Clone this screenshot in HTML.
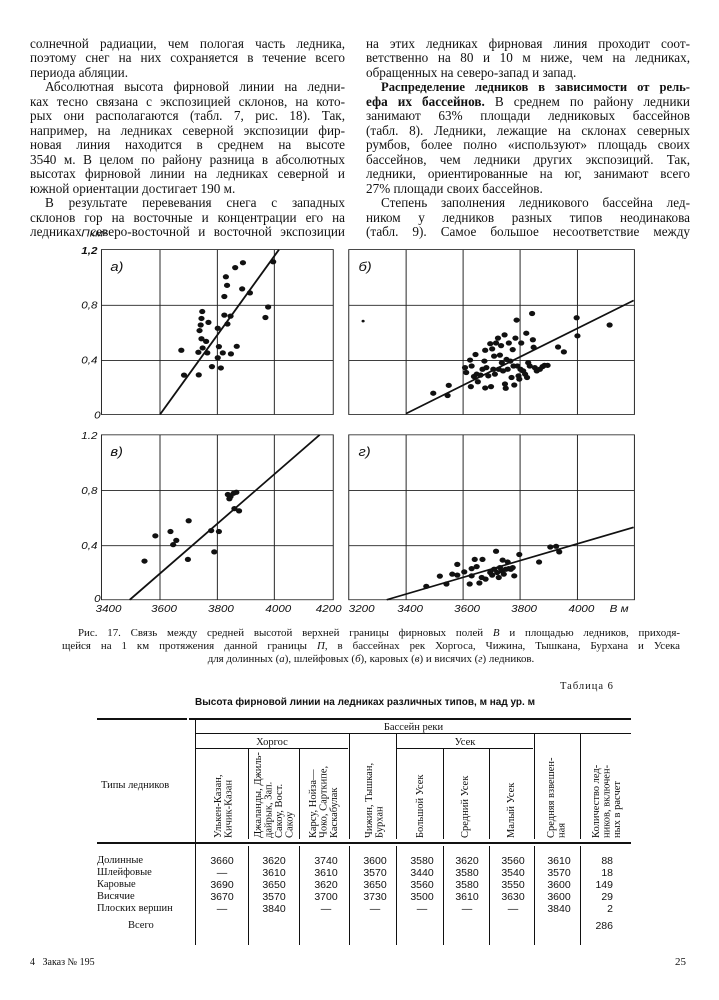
<!DOCTYPE html>
<html><head><meta charset="utf-8"><style>
body{margin:0;background:#fff;}
#p{position:relative;width:719px;height:1000px;overflow:hidden;background:#fff;color:#111;font-family:"Liberation Serif","Noto Serif CJK SC",serif;}
.l{position:absolute;font-size:13.2px;line-height:14px;white-space:nowrap;text-align:justify;text-align-last:justify;}
.n{text-align-last:left;}
.c{position:absolute;font-size:10.9px;line-height:13px;white-space:nowrap;}
.t{position:absolute;font-size:10.5px;line-height:12px;white-space:nowrap;}
.r{position:absolute;font-size:10.5px;line-height:10.5px;writing-mode:vertical-rl;transform:rotate(180deg);white-space:nowrap;}
.h{position:absolute;background:#111;}
.num{position:absolute;font-size:10.5px;line-height:12px;text-align:center;width:40px;font-family:"Liberation Sans Narrow","Liberation Sans",sans-serif;}
</style></head><body><div id="p">
<div class="l" style="left:30px;top:37px;width:315px">солнечной радиации, чем пологая часть ледника,</div>
<div class="l" style="left:30px;top:51px;width:315px">поэтому снег на них сохраняется в течение всего</div>
<div class="l n" style="left:30px;top:66px;width:315px">периода абляции.</div>
<div class="l" style="left:45px;top:80px;width:300px">Абсолютная высота фирновой линии на ледни-</div>
<div class="l" style="left:30px;top:95px;width:315px">ках тесно связана с экспозицией склонов, на кото-</div>
<div class="l" style="left:30px;top:109px;width:315px">рых они располагаются (табл. 7, рис. 18). Так,</div>
<div class="l" style="left:30px;top:124px;width:315px">например, на ледниках северной экспозиции фир-</div>
<div class="l" style="left:30px;top:138px;width:315px">новая линия находится в среднем на высоте</div>
<div class="l" style="left:30px;top:153px;width:315px">3540 м. В целом по району разница в абсолютных</div>
<div class="l" style="left:30px;top:167px;width:315px">высотах фирновой линии на ледниках северной и</div>
<div class="l n" style="left:30px;top:182px;width:315px">южной ориентации достигает 190 м.</div>
<div class="l" style="left:45px;top:196px;width:300px">В результате перевевания снега с западных</div>
<div class="l" style="left:30px;top:211px;width:315px">склонов гор на восточные и концентрации его на</div>
<div class="l" style="left:30px;top:225px;width:315px">ледниках северо-восточной и восточной экспозиции</div>
<div class="l" style="left:366px;top:37px;width:324px">на этих ледниках фирновая линия проходит соот-</div>
<div class="l" style="left:366px;top:51px;width:324px">ветственно на 80 и 10 м ниже, чем на ледниках,</div>
<div class="l n" style="left:366px;top:66px;width:324px">обращенных на северо-запад и запад.</div>
<div class="l" style="left:381px;top:80px;width:309px;font-weight:bold;font-size:12.6px">Распределение ледников в зависимости от рель-</div>
<div class="l" style="left:366px;top:95px;width:324px"><b>ефа их бассейнов.</b> В среднем по району ледники</div>
<div class="l" style="left:366px;top:109px;width:324px">занимают 63% площади ледниковых бассейнов</div>
<div class="l" style="left:366px;top:124px;width:324px">(табл. 8). Ледники, лежащие на склонах северных</div>
<div class="l" style="left:366px;top:138px;width:324px">румбов, более полно «используют» площадь своих</div>
<div class="l" style="left:366px;top:153px;width:324px">бассейнов, чем ледники других экспозиций. Так,</div>
<div class="l" style="left:366px;top:167px;width:324px">ледники, ориентированные на юг, занимают всего</div>
<div class="l n" style="left:366px;top:182px;width:324px">27% площади своих бассейнов.</div>
<div class="l" style="left:381px;top:196px;width:309px">Степень заполнения ледникового бассейна лед-</div>
<div class="l" style="left:366px;top:211px;width:324px">ником у ледников разных типов неодинакова</div>
<div class="l" style="left:366px;top:225px;width:324px">(табл. 9). Самое большое несоответствие между</div>

<svg style="position:absolute;left:60px;top:225px" width="600" height="400" viewBox="0 0 1548 1220" preserveAspectRatio="none">
<g stroke="#222" stroke-width="2.5" fill="none">
<rect x="107" y="75" width="598" height="503"/>
<line x1="258" y1="75" x2="258" y2="578"/><line x1="406" y1="75" x2="406" y2="578"/><line x1="553" y1="75" x2="553" y2="578"/>
<line x1="107" y1="245" x2="705" y2="245"/><line x1="107" y1="413" x2="705" y2="413"/>
<rect x="745" y="75" width="737" height="503"/>
<line x1="893" y1="75" x2="893" y2="578"/><line x1="1040" y1="75" x2="1040" y2="578"/><line x1="1187" y1="75" x2="1187" y2="578"/><line x1="1335" y1="75" x2="1335" y2="578"/>
<line x1="745" y1="245" x2="1482" y2="245"/><line x1="745" y1="413" x2="1482" y2="413"/>
<rect x="107" y="640" width="598" height="503"/>
<line x1="258" y1="640" x2="258" y2="1143"/><line x1="406" y1="640" x2="406" y2="1143"/><line x1="553" y1="640" x2="553" y2="1143"/>
<line x1="107" y1="810" x2="705" y2="810"/><line x1="107" y1="978" x2="705" y2="978"/>
<rect x="745" y="640" width="737" height="503"/>
<line x1="893" y1="640" x2="893" y2="1143"/><line x1="1040" y1="640" x2="1040" y2="1143"/><line x1="1187" y1="640" x2="1187" y2="1143"/><line x1="1335" y1="640" x2="1335" y2="1143"/>
<line x1="745" y1="810" x2="1482" y2="810"/><line x1="745" y1="978" x2="1482" y2="978"/>
</g>
<g stroke="#111" stroke-width="5">
<line x1="258" y1="578" x2="565" y2="75"/>
<line x1="893" y1="575" x2="1480" y2="230"/>
<line x1="180" y1="1143" x2="670" y2="640"/>
<line x1="843" y1="1143" x2="1480" y2="922"/>
</g>
<g fill="#111">
<circle cx="782" cy="293" r="4"/>
<circle cx="313" cy="382" r="8"/><circle cx="320" cy="458" r="8"/><circle cx="358" cy="457" r="8"/><circle cx="357" cy="388" r="8"/><circle cx="360" cy="322" r="8"/><circle cx="363" cy="305" r="8"/><circle cx="365" cy="285" r="8"/><circle cx="367" cy="264" r="8"/><circle cx="365" cy="347" r="8"/><circle cx="368" cy="375" r="8"/><circle cx="377" cy="355" r="8"/><circle cx="380" cy="390" r="8"/><circle cx="383" cy="297" r="8"/><circle cx="392" cy="432" r="8"/><circle cx="407" cy="315" r="8"/><circle cx="407" cy="405" r="8"/><circle cx="410" cy="371" r="8"/><circle cx="415" cy="436" r="8"/><circle cx="420" cy="390" r="8"/><circle cx="424" cy="218" r="8"/><circle cx="424" cy="275" r="8"/><circle cx="428" cy="158" r="8"/><circle cx="431" cy="184" r="8"/><circle cx="432" cy="302" r="8"/><circle cx="440" cy="278" r="8"/><circle cx="441" cy="393" r="8"/><circle cx="452" cy="130" r="8"/><circle cx="456" cy="370" r="8"/><circle cx="470" cy="195" r="8"/><circle cx="472" cy="115" r="8"/><circle cx="490" cy="207" r="8"/><circle cx="530" cy="282" r="8"/><circle cx="537" cy="250" r="8"/><circle cx="550" cy="112" r="8"/>
<circle cx="963" cy="513" r="8"/><circle cx="1003" cy="489" r="8"/><circle cx="1000" cy="520" r="8"/><circle cx="1045" cy="435" r="8"/><circle cx="1048" cy="450" r="8"/><circle cx="1058" cy="412" r="8"/><circle cx="1062" cy="430" r="8"/><circle cx="1060" cy="493" r="8"/><circle cx="1068" cy="462" r="8"/><circle cx="1072" cy="395" r="8"/><circle cx="1075" cy="455" r="8"/><circle cx="1078" cy="478" r="8"/><circle cx="1085" cy="458" r="8"/><circle cx="1090" cy="440" r="8"/><circle cx="1095" cy="415" r="8"/><circle cx="1097" cy="382" r="8"/><circle cx="1097" cy="497" r="8"/><circle cx="1100" cy="435" r="8"/><circle cx="1105" cy="460" r="8"/><circle cx="1110" cy="362" r="8"/><circle cx="1112" cy="493" r="8"/><circle cx="1115" cy="378" r="8"/><circle cx="1118" cy="440" r="8"/><circle cx="1120" cy="400" r="8"/><circle cx="1122" cy="455" r="8"/><circle cx="1125" cy="360" r="8"/><circle cx="1130" cy="345" r="8"/><circle cx="1132" cy="440" r="8"/><circle cx="1135" cy="397" r="8"/><circle cx="1138" cy="368" r="8"/><circle cx="1140" cy="420" r="8"/><circle cx="1143" cy="445" r="8"/><circle cx="1147" cy="335" r="8"/><circle cx="1148" cy="485" r="8"/><circle cx="1150" cy="498" r="8"/><circle cx="1152" cy="410" r="8"/><circle cx="1155" cy="440" r="8"/><circle cx="1158" cy="360" r="8"/><circle cx="1162" cy="415" r="8"/><circle cx="1165" cy="465" r="8"/><circle cx="1168" cy="380" r="8"/><circle cx="1170" cy="430" r="8"/><circle cx="1172" cy="488" r="8"/><circle cx="1175" cy="345" r="8"/><circle cx="1178" cy="290" r="8"/><circle cx="1180" cy="430" r="8"/><circle cx="1183" cy="460" r="8"/><circle cx="1185" cy="470" r="8"/><circle cx="1188" cy="440" r="8"/><circle cx="1190" cy="360" r="8"/><circle cx="1195" cy="445" r="8"/><circle cx="1200" cy="455" r="8"/><circle cx="1203" cy="330" r="8"/><circle cx="1205" cy="465" r="8"/><circle cx="1208" cy="420" r="8"/><circle cx="1212" cy="430" r="8"/><circle cx="1218" cy="270" r="8"/><circle cx="1220" cy="350" r="8"/><circle cx="1222" cy="373" r="8"/><circle cx="1225" cy="435" r="8"/><circle cx="1230" cy="445" r="8"/><circle cx="1238" cy="440" r="8"/><circle cx="1245" cy="432" r="8"/><circle cx="1250" cy="428" r="8"/><circle cx="1258" cy="428" r="8"/><circle cx="1285" cy="372" r="8"/><circle cx="1300" cy="387" r="8"/><circle cx="1333" cy="283" r="8"/><circle cx="1335" cy="338" r="8"/><circle cx="1418" cy="305" r="8"/>
<circle cx="218" cy="1025" r="8"/><circle cx="246" cy="948" r="8"/><circle cx="285" cy="935" r="8"/><circle cx="292" cy="975" r="8"/><circle cx="300" cy="962" r="8"/><circle cx="330" cy="1020" r="8"/><circle cx="332" cy="902" r="8"/><circle cx="390" cy="932" r="8"/><circle cx="398" cy="997" r="8"/><circle cx="410" cy="935" r="8"/><circle cx="433" cy="822" r="8"/><circle cx="440" cy="828" r="8"/><circle cx="448" cy="818" r="8"/><circle cx="455" cy="815" r="8"/><circle cx="437" cy="835" r="8"/><circle cx="450" cy="865" r="8"/><circle cx="462" cy="872" r="8"/>
<circle cx="945" cy="1102" r="8"/><circle cx="980" cy="1071" r="8"/><circle cx="997" cy="1095" r="8"/><circle cx="1012" cy="1065" r="8"/><circle cx="1025" cy="1035" r="8"/><circle cx="1025" cy="1068" r="8"/><circle cx="1043" cy="1058" r="8"/><circle cx="1057" cy="1095" r="8"/><circle cx="1062" cy="1070" r="8"/><circle cx="1062" cy="1048" r="8"/><circle cx="1070" cy="1020" r="8"/><circle cx="1075" cy="1042" r="8"/><circle cx="1082" cy="1092" r="8"/><circle cx="1088" cy="1075" r="8"/><circle cx="1090" cy="1020" r="8"/><circle cx="1098" cy="1080" r="8"/><circle cx="1110" cy="1060" r="8"/><circle cx="1115" cy="1068" r="8"/><circle cx="1120" cy="1050" r="8"/><circle cx="1125" cy="995" r="8"/><circle cx="1128" cy="1060" r="8"/><circle cx="1132" cy="1075" r="8"/><circle cx="1135" cy="1045" r="8"/><circle cx="1140" cy="1055" r="8"/><circle cx="1142" cy="1022" r="8"/><circle cx="1145" cy="1065" r="8"/><circle cx="1150" cy="1050" r="8"/><circle cx="1155" cy="1028" r="8"/><circle cx="1158" cy="1048" r="8"/><circle cx="1163" cy="1050" r="8"/><circle cx="1168" cy="1045" r="8"/><circle cx="1172" cy="1070" r="8"/><circle cx="1185" cy="1005" r="8"/><circle cx="1236" cy="1028" r="8"/><circle cx="1265" cy="982" r="8"/><circle cx="1280" cy="980" r="8"/><circle cx="1288" cy="997" r="8"/>
</g>
<g font-family="Liberation Sans, sans-serif" font-style="italic" font-size="30" fill="#111">
<text x="55" y="35">Пкм²</text>
<text x="55" y="88" font-weight="bold">1,2</text>
<text x="55" y="255">0,8</text>
<text x="55" y="423">0,4</text>
<text x="88" y="590">0</text>
<text x="55" y="652">1.2</text>
<text x="55" y="820">0,8</text>
<text x="55" y="988">0,4</text>
<text x="88" y="1150">0</text>
<text x="92" y="1180">3400</text><text x="235" y="1180">3600</text><text x="382" y="1180">3800</text><text x="530" y="1180">4000</text><text x="660" y="1180">4200</text>
<text x="745" y="1180">3200</text><text x="870" y="1180">3400</text><text x="1017" y="1180">3600</text><text x="1164" y="1180">3800</text><text x="1312" y="1180">4000</text><text x="1418" y="1180">В м</text>
<text x="130" y="140" font-size="38">а)</text>
<text x="770" y="140" font-size="38">б)</text>
<text x="130" y="705" font-size="38">в)</text>
<text x="770" y="705" font-size="38">г)</text>
</g>
</svg>

<div class="c" style="left:78px;top:627px;width:602px;text-align:justify;text-align-last:justify">Рис. 17. Связь между средней высотой верхней границы фирновых полей <i>В</i> и площадью ледников, приходя-</div>
<div class="c" style="left:62px;top:640px;width:618px;text-align:justify;text-align-last:justify">щейся на 1 км протяжения данной границы <i>П</i>, в бассейнах рек Хоргоса, Чижина, Тышкана, Бурхана и Усека</div>
<div class="c" style="left:62px;top:653px;width:618px;text-align:center">для долинных (<i>а</i>), шлейфовых (<i>б</i>), каровых (<i>в</i>) и висячих (<i>г</i>) ледников.</div>

<div class="t" style="left:560px;top:681px;letter-spacing:1px">Таблица 6</div>
<div class="t" style="left:100px;top:697px;width:530px;text-align:center;font-weight:bold;font-family:'Liberation Sans Narrow','Liberation Sans',sans-serif;font-size:10px">Высота фирновой линии на ледниках различных типов, м над ур. м</div>
<div class="h" style="left:97px;top:718px;width:90px;height:2px"></div>
<div class="h" style="left:189px;top:718px;width:442px;height:2px"></div>
<div class="h" style="left:97px;top:842px;width:534px;height:2px"></div>
<div class="h" style="left:196px;top:733px;width:435px;height:1px"></div>
<div class="h" style="left:196px;top:748px;width:152px;height:1px"></div>
<div class="h" style="left:397px;top:748px;width:136px;height:1px"></div>
<div class="h" style="left:195px;top:720px;width:1px;height:225px"></div>
<div class="h" style="left:248px;top:749px;width:1px;height:90px"></div>
<div class="h" style="left:299px;top:749px;width:1px;height:90px"></div>
<div class="h" style="left:349px;top:734px;width:1px;height:105px"></div>
<div class="h" style="left:396px;top:734px;width:1px;height:105px"></div>
<div class="h" style="left:443px;top:749px;width:1px;height:90px"></div>
<div class="h" style="left:489px;top:749px;width:1px;height:90px"></div>
<div class="h" style="left:534px;top:734px;width:1px;height:105px"></div>
<div class="h" style="left:580px;top:734px;width:1px;height:105px"></div>
<div class="h" style="left:248px;top:846px;width:1px;height:99px"></div>
<div class="h" style="left:299px;top:846px;width:1px;height:99px"></div>
<div class="h" style="left:349px;top:846px;width:1px;height:99px"></div>
<div class="h" style="left:396px;top:846px;width:1px;height:99px"></div>
<div class="h" style="left:443px;top:846px;width:1px;height:99px"></div>
<div class="h" style="left:489px;top:846px;width:1px;height:99px"></div>
<div class="h" style="left:534px;top:846px;width:1px;height:99px"></div>
<div class="h" style="left:580px;top:846px;width:1px;height:99px"></div>
<div class="t" style="left:196px;top:722px;width:435px;text-align:center">Бассейн реки</div>
<div class="t" style="left:196px;top:737px;width:152px;text-align:center">Хоргос</div>
<div class="t" style="left:397px;top:737px;width:136px;text-align:center">Усек</div>
<div class="t" style="left:101px;top:780px">Типы ледников</div>
<div class="r" style="left:214px;top:762px;height:76px">Улькен-Казан,<br>Кичик-Казан</div>
<div class="r" style="left:254px;top:752px;height:86px">Джаланды, Джиль-<br>дайрык, Зап.<br>Сакоу, Вост.<br>Сакоу</div>
<div class="r" style="left:309px;top:752px;height:86px">Карсу, Нойза—<br>Чоко, Сарткипе,<br>Каскабулак</div>
<div class="r" style="left:365px;top:752px;height:86px">Чижин, Тышкан,<br>Бурхан</div>
<div class="r" style="left:416px;top:762px;height:76px">Большой Усек</div>
<div class="r" style="left:461px;top:762px;height:76px">Средний Усек</div>
<div class="r" style="left:507px;top:762px;height:76px">Малый Усек</div>
<div class="r" style="left:547px;top:752px;height:86px">Средняя взвешен-<br>ная</div>
<div class="r" style="left:592px;top:752px;height:86px">Количество лед-<br>ников, включен-<br>ных в расчет</div>
<div class="t" style="left:97px;top:855px;line-height:12px">Долинные<br>Шлейфовые<br>Каровые<br>Висячие<br>Плоских вершин</div>
<div class="t" style="left:128px;top:920px">Всего</div>
<div class="num" style="left:202px;top:855px">3660<br>—<br>3690<br>3670<br>—</div>
<div class="num" style="left:254px;top:855px">3620<br>3610<br>3650<br>3570<br>3840</div>
<div class="num" style="left:306px;top:855px">3740<br>3610<br>3620<br>3700<br>—</div>
<div class="num" style="left:355px;top:855px">3600<br>3570<br>3650<br>3730<br>—</div>
<div class="num" style="left:402px;top:855px">3580<br>3440<br>3560<br>3500<br>—</div>
<div class="num" style="left:447px;top:855px">3620<br>3580<br>3580<br>3610<br>—</div>
<div class="num" style="left:493px;top:855px">3560<br>3540<br>3550<br>3630<br>—</div>
<div class="num" style="left:539px;top:855px">3610<br>3570<br>3600<br>3600<br>3840</div>
<div class="num" style="left:583px;top:855px;text-align:right;width:30px">88<br>18<br>149<br>29<br>2</div>
<div class="num" style="left:583px;top:920px;text-align:right;width:30px">286</div>
<div class="t" style="left:30px;top:957px;font-size:10px">4 &nbsp;&nbsp;Заказ № 195</div>
<div class="t" style="left:675px;top:956px;font-size:11px">25</div>
</div></body></html>
